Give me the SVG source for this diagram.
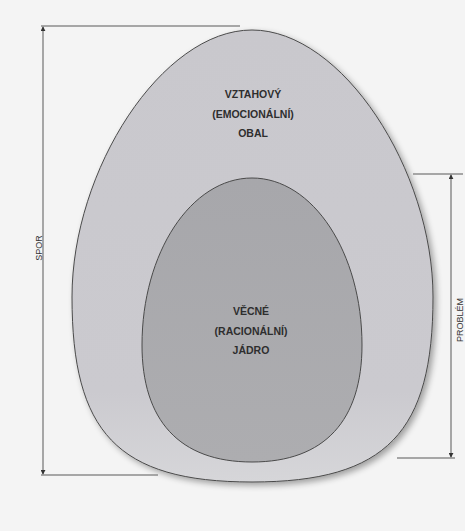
<svg xmlns="http://www.w3.org/2000/svg" width="465" height="531" viewBox="0 0 465 531">
  <defs>
    <marker id="arr" viewBox="0 0 6 6" refX="5" refY="3" markerWidth="5" markerHeight="5" orient="auto-start-reverse" markerUnits="userSpaceOnUse">
      <path d="M0,0 L6,3 L0,6 Z" fill="#333"/>
    </marker>
    <filter id="shadow" x="-10%" y="-10%" width="125%" height="125%">
      <feGaussianBlur in="SourceAlpha" stdDeviation="3"/>
      <feOffset dx="3" dy="3" result="b"/>
      <feComponentTransfer><feFuncA type="linear" slope="0.35"/></feComponentTransfer>
      <feMerge><feMergeNode/><feMergeNode in="SourceGraphic"/></feMerge>
    </filter>
    <linearGradient id="gOuter" x1="0" y1="0" x2="0" y2="1">
      <stop offset="0" stop-color="#c9c8cd"/>
      <stop offset="0.8" stop-color="#cbcacf"/>
      <stop offset="1" stop-color="#d6d6d9"/>
    </linearGradient>
    <linearGradient id="gInner" x1="0" y1="0" x2="0" y2="1">
      <stop offset="0" stop-color="#a7a7ab"/>
      <stop offset="1" stop-color="#adadb0"/>
    </linearGradient>
  </defs>
  <style>
    .egg { stroke: #4a4a4a; stroke-width: 1; }
    .dim { stroke: #8c8c8c; stroke-width: 1.5; fill: none; }
    .lab { font-family: "Liberation Sans", Arial, sans-serif; font-weight: bold; font-size: 10.5px; fill: #2e2e2e; text-anchor: middle; }
    .side { font-family: "Liberation Sans", Arial, sans-serif; font-size: 9px; fill: #333; text-anchor: middle; }
  </style>
  <rect width="465" height="531" fill="#f4f4f4"/>

  <g id="outer-egg">
    <path class="egg" filter="url(#shadow)" fill="url(#gOuter)" d="M252,30 C342,30 433,170 433,297 C433,432 387,482 252,482 C117,482 72,432 72,297 C72,170 162,30 252,30 Z"/>
    <text class="lab" x="253" y="98">VZTAHOVÝ</text>
    <text class="lab" x="253" y="117.5">(EMOCIONÁLNÍ)</text>
    <text class="lab" x="253" y="137">OBAL</text>
  </g>

  <g id="inner-egg">
    <path class="egg" fill="url(#gInner)" d="M252,178 C313,178 362,253 362,345 C362,420 325,462 252,462 C179,462 142,420 142,345 C142,253 191,178 252,178 Z"/>
    <text class="lab" x="251" y="315">VĚCNÉ</text>
    <text class="lab" x="251" y="334.5">(RACIONÁLNÍ)</text>
    <text class="lab" x="251" y="353.5">JÁDRO</text>
  </g>

  <g id="connectors">
    <line class="dim" x1="41" y1="26" x2="240" y2="26"/>
    <line class="dim" x1="41" y1="475" x2="158" y2="475"/>
    <line class="dim" x1="43" y1="27" x2="43" y2="474" marker-start="url(#arr)" marker-end="url(#arr)"/>
    <line class="dim" x1="413" y1="174" x2="463" y2="174"/>
    <line class="dim" x1="397" y1="458" x2="455" y2="458"/>
    <line class="dim" x1="451" y1="175" x2="451" y2="457" marker-start="url(#arr)" marker-end="url(#arr)"/>
  </g>

  <g id="label-spor">
    <text class="side" transform="translate(41.5,248) rotate(-90)">SPOR</text>
  </g>
  <g id="label-problem">
    <text class="side" transform="translate(463,320) rotate(-90)">PROBLÉM</text>
  </g>
</svg>
